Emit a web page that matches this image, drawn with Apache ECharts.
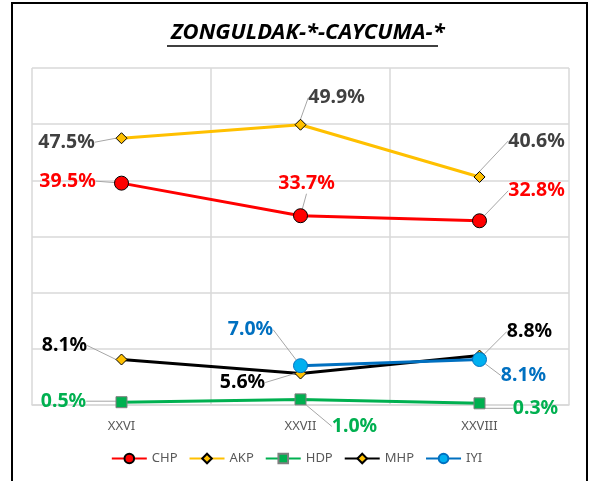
<!DOCTYPE html>
<html>
<head>
<meta charset="utf-8">
<script src="https://cdn.jsdelivr.net/npm/echarts@6/dist/echarts.min.js"></script>
<style>
  html, body { margin: 0; padding: 0; background: #fff; }
  #chart { width: 593px; height: 481px; }
</style>
</head>
<body>
<div id="chart"></div>
<script>
  // secim donemleri
  var categories = ['XXVI', 'XXVII', 'XXVIII'];
  var chp = [39.5, 33.7, 32.8];
  var akp = [47.5, 49.9, 40.6];
  var hdp = [0.5, 1.0, 0.3];
  var mhp = [8.1, 5.6, 8.8];
  var iyi = [null, 7.0, 8.1];

  // etiket kaydirma (dx, dy) - her nokta icin
  var offsets = {
    CHP: [[-54, -2], [6, -32], [57, -30]],
    AKP: [[-55, 4], [36, -27], [57, -36]],
    HDP: [[-58, -1], [54, 27], [56, 5]],
    MHP: [[-57, -14], [-58, 9], [50, -24]],
    IYI: [[0, 0], [-50, -36], [44, 16]]
  };

  var font = "'Noto Sans', sans-serif";

  function makeSeries(name, data, lineColor, symbol, size, fill, border, labelColor) {
    return {
      name: name,
      type: 'line',
      data: data,
      symbol: symbol,
      symbolSize: size,
      connectNulls: false,
      lineStyle: { color: lineColor, width: 3 },
      itemStyle: { color: fill, borderColor: border, borderWidth: 1 },
      label: {
        show: true,
        position: 'inside',
        formatter: function (p) { return p.value.toFixed(1) + '%'; },
        color: labelColor,
        fontFamily: font,
        fontWeight: 'bold',
        fontSize: 19.5
      },
      labelLine: { show: true, lineStyle: { color: '#A6A6A6', width: 1 } },
      labelLayout: function (p) {
        var o = offsets[name][p.dataIndex];
        return { dx: o[0], dy: o[1] };
      },
      emphasis: { disabled: true }
    };
  }

  var myChart = echarts.init(document.getElementById('chart'));
  var option = {
    animation: false,
    title: {
      text: 'ZONGULDAK-*-CAYCUMA-*',
      left: 166,
      top: 17,
      textStyle: {
        fontFamily: font,
        fontSize: 22,
        fontWeight: 'bold',
        fontStyle: 'italic',
        color: '#000'
      }
    },
    graphic: [
      { type: 'polyline', shape: { points: [[12, 490], [12, 3], [587, 3], [587, 490]] },
        style: { stroke: '#000', lineWidth: 2, fill: null }, silent: true },
      { type: 'line', shape: { x1: 167, y1: 46, x2: 438, y2: 46 },
        style: { stroke: '#000', lineWidth: 1.5 }, silent: true }
    ],
    grid: { left: 32, right: 24, top: 68, bottom: 76, containLabel: false },
    legend: {
      bottom: 11,
      left: 'center',
      itemWidth: 35,
      itemHeight: 12,
      itemGap: 11,
      textStyle: { color: '#595959', fontFamily: font, fontSize: 13 },
      data: ['CHP', 'AKP', 'HDP', 'MHP', 'IYI']
    },
    xAxis: {
      type: 'category',
      data: categories,
      boundaryGap: true,
      axisLine: { show: true, lineStyle: { color: '#D9D9D9', width: 1.5 } },
      axisTick: { show: false },
      axisLabel: { color: '#595959', fontFamily: font, fontSize: 13, margin: 15 },
      splitLine: { show: true, lineStyle: { color: '#D9D9D9', width: 1.5 } }
    },
    yAxis: {
      type: 'value',
      min: 0,
      max: 60,
      interval: 10,
      axisLabel: { show: false },
      axisLine: { show: false },
      axisTick: { show: false },
      splitLine: { show: true, lineStyle: { color: '#D9D9D9', width: 1.5 } }
    },
    series: [
      makeSeries('CHP', chp, '#FF0000', 'circle', 14, '#FF0000', '#000', '#FF0000'),
      makeSeries('AKP', akp, '#FFC000', 'diamond', 11, '#FFC000', '#000', '#404040'),
      makeSeries('HDP', hdp, '#00B050', 'rect', 11, '#00B050', '#7F7F7F', '#00B050'),
      makeSeries('MHP', mhp, '#000000', 'diamond', 11, '#FFC000', '#000', '#000000'),
      makeSeries('IYI', iyi, '#0070C0', 'circle', 14, '#00B0F0', '#0070C0', '#0070C0')
    ]
  };
  myChart.setOption(option);
</script>
</body>
</html>
